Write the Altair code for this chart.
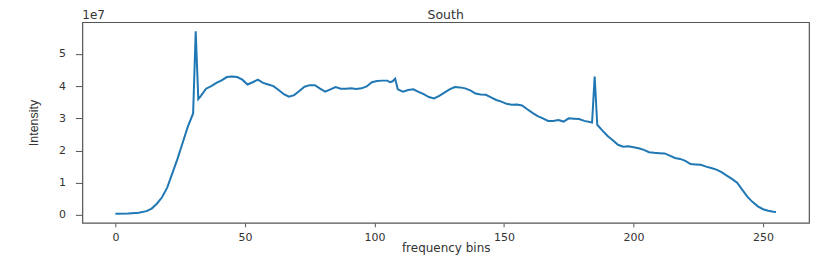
import altair as alt
import pandas as pd

# frequency bin positions
bins = [0, 5, 9, 12, 14, 16, 18, 20, 22, 24, 26, 28, 30, 31, 32, 33, 35, 37, 39, 41,
        43, 45, 47, 49, 51, 53, 55, 57, 59, 61, 63, 65, 67, 69, 71, 73, 75, 77, 79, 81,
        83, 85, 87, 89, 91, 93, 95, 97, 99, 101, 103, 105, 106, 107, 108, 109, 111, 113, 115, 117,
        119, 121, 123, 125, 127, 129, 131, 133, 135, 137, 139, 141, 143, 145, 147, 149, 151, 153, 155, 157,
        159, 161, 163, 165, 167, 169, 171, 173, 175, 177, 179, 181, 184, 185, 186, 188, 190, 192, 194, 196,
        198, 200, 202, 204, 206, 208, 210, 212, 214, 216, 218, 220, 222, 224, 226, 228, 230, 232, 234, 236,
        238, 240, 242, 244, 246, 248, 250, 252, 254, 255]

# intensity in units of 1e7
intensity_e7 = [0.04, 0.05, 0.07, 0.12, 0.2, 0.35, 0.55, 0.85, 1.3, 1.75, 2.25, 2.75, 3.15, 5.7, 3.6, 3.7, 3.92, 4.0, 4.1, 4.18,
                4.28, 4.3, 4.28, 4.2, 4.05, 4.12, 4.2, 4.1, 4.05, 4.0, 3.88, 3.75, 3.67, 3.72, 3.85, 3.98, 4.03, 4.03, 3.92, 3.83,
                3.9, 3.97, 3.92, 3.92, 3.93, 3.91, 3.93, 3.99, 4.12, 4.16, 4.17, 4.17, 4.12, 4.15, 4.23, 3.9, 3.83, 3.88, 3.9, 3.82,
                3.75, 3.66, 3.62, 3.7, 3.8, 3.9, 3.97, 3.96, 3.93, 3.87, 3.77, 3.74, 3.73, 3.65, 3.57, 3.52, 3.45, 3.42, 3.43, 3.4,
                3.28, 3.17, 3.07, 3.0, 2.92, 2.92, 2.95, 2.9, 3.0, 2.99, 2.98, 2.92, 2.87, 4.3, 2.8, 2.62, 2.45, 2.32, 2.18, 2.12,
                2.13, 2.1, 2.07, 2.02, 1.95, 1.93, 1.92, 1.91, 1.84, 1.77, 1.74, 1.68, 1.58, 1.57, 1.56, 1.5, 1.46, 1.41, 1.33, 1.22,
                1.12, 1.0, 0.78, 0.56, 0.4, 0.27, 0.18, 0.13, 0.1, 0.09]

x_ticks = [0, 50, 100, 150, 200, 250]
y_ticks = [0, 1e7, 2e7, 3e7, 4e7, 5e7]
title_text = "South"
offset_label = "1e7"

df = pd.DataFrame({"bin": bins, "intensity": [v * 1e7 for v in intensity_e7]})

FONT = "DejaVu Sans"
W, H = 728, 201

line = alt.Chart(df).mark_line(color="#1f77b4", strokeWidth=2).encode(
    x=alt.X(
        "bin:Q",
        scale=alt.Scale(domain=[-12.75, 267.75], nice=False, zero=False),
        axis=alt.Axis(
            values=x_ticks, title="frequency bins", tickSize=4, labelPadding=5,
            titleY=29, titleBaseline="alphabetic", titleFontSize=12,
        ),
    ),
    y=alt.Y(
        "intensity:Q",
        scale=alt.Scale(domain=[-0.243e7, 5.983e7], nice=False, zero=False),
        axis=alt.Axis(
            values=y_ticks, labelExpr="format(datum.value / 1e7, 'd')",
            title="Intensity", tickSize=7, labelPadding=10,
            titleX=-45, titleY=H / 2, titleAngle=270, titleAlign="center",
            titleBaseline="alphabetic", titleFont="Liberation Sans",
            titleFontSize=12.5,
        ),
    ),
)

offset_text = alt.Chart(pd.DataFrame({"t": [offset_label]})).mark_text(
    align="left", baseline="alphabetic", fontSize=12, font=FONT, color="#333"
).encode(x=alt.value(0), y=alt.value(-3), text="t:N")

title_mark = alt.Chart(pd.DataFrame({"t": [title_text]})).mark_text(
    align="center", baseline="alphabetic", fontSize=12.5, font=FONT, color="#333"
).encode(x=alt.value(W / 2), y=alt.value(-3), text="t:N")

chart = alt.layer(line, offset_text, title_mark).properties(
    width=W,
    height=H,
    autosize=alt.AutoSizeParams(type="none"),
    padding={"left": 74.5, "top": 14, "right": 20, "bottom": 34},
).configure_view(
    stroke="#555", strokeWidth=1.2
).configure_axis(
    grid=False, domain=False, tickColor="#555", tickWidth=1,
    labelFont=FONT, labelFontSize=11, labelColor="#333",
    titleFont=FONT, titleFontWeight="normal", titleColor="#333",
)

chart.save("out.html", embed_options={"renderer": "svg", "actions": False})
